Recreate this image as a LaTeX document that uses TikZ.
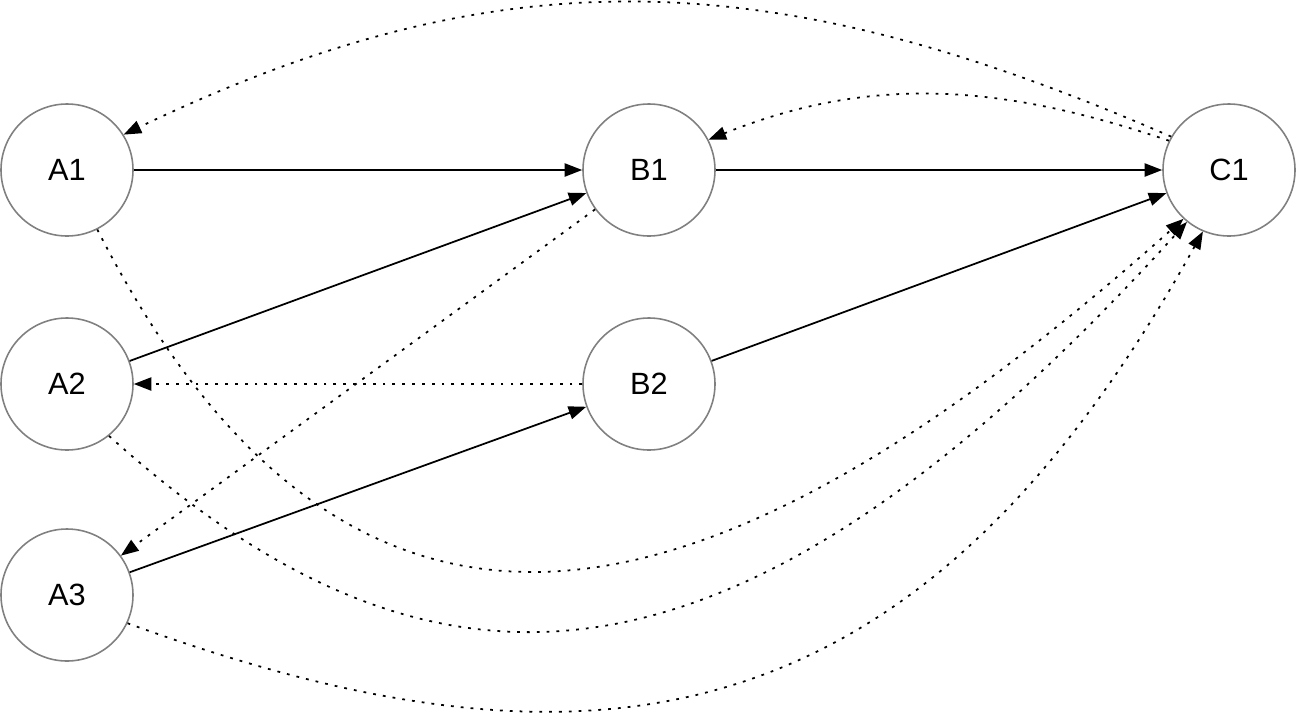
\documentclass[tikz,border=0pt]{standalone}
\usepackage{fontspec}
\setmainfont{Liberation Sans}
\usetikzlibrary{arrows.meta}
\definecolor{ringgray}{HTML}{808080}

\begin{document}
\begin{tikzpicture}[
    station/.style = {circle, draw=ringgray, line width=0.9pt, fill=white,
                      minimum size=2.64cm, inner sep=0pt,
                      font=\fontsize{17.5}{20}\selectfont},
    forward/.style = {-{Triangle[length=10pt, width=7.5pt]}, line width=1pt},
    feedback/.style = {-{Triangle[length=10pt, width=7.5pt]}, line width=1pt,
                       dash pattern=on 1.6pt off 4pt},
]

% fixed canvas, same proportions as the drawing
\useasboundingbox (0,0) rectangle (25.94,-14.28);

% --- the six stations ---------------------------------------------------
\node[station] (A1) at (1.34,-3.40)  {A1};
\node[station] (A2) at (1.34,-7.68)  {A2};
\node[station] (A3) at (1.34,-11.90) {A3};
\node[station] (B1) at (12.98,-3.40) {B1};
\node[station] (B2) at (12.98,-7.68) {B2};
\node[station] (C1) at (24.58,-3.40) {C1};

% --- forward flow (solid) -----------------------------------------------
\draw[forward] (A1) -- (B1);
\draw[forward] (A2) -- (B1);
\draw[forward] (A3) -- (B2);
\draw[forward] (B1) -- (C1);
\draw[forward] (B2) -- (C1);

% --- feedback (dotted) --------------------------------------------------
\draw[feedback] (B2) -- (A2);
\draw[feedback] (B1) -- (A3);
\draw[feedback] (C1.150) .. controls +(156.5:8.54) and +(25.6:8.54) .. (A1.32);
\draw[feedback] (C1.154) .. controls +(161.3:3.52) and +(21.8:3.52) .. (B1.27);
\draw[feedback] (A1.-63) .. controls +(-63:11.8) and +(221.7:11.8) .. (C1.227);
\draw[feedback] (A2.-51) .. controls +(-42:8.6) and +(227.8:13.6) .. (C1.231);
\draw[feedback] (A3.-25) .. controls +(-20:9.6) and +(241:12) .. (C1.247);

\end{tikzpicture}
\end{document}
